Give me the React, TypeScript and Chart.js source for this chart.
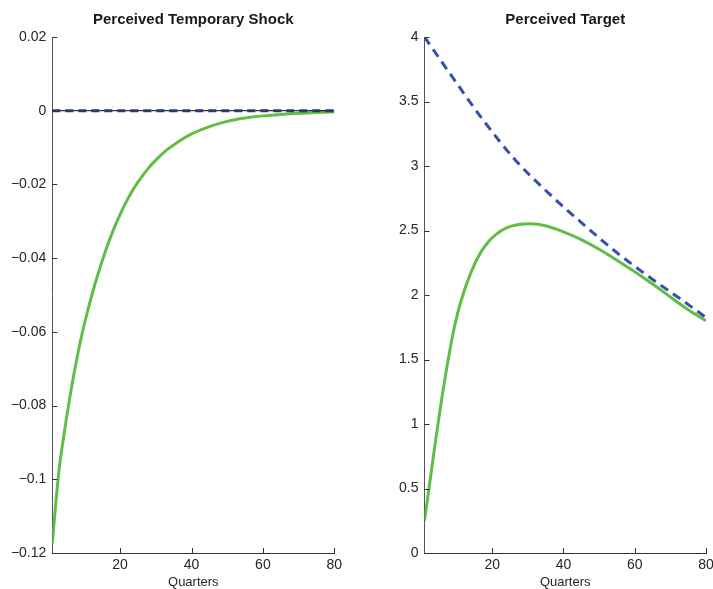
import React, { useEffect, useRef } from "react";
import { Chart, registerables } from "chart.js";

Chart.register(...registerables);

const FONT = '"Liberation Sans", Arial, Helvetica, sans-serif';

// Shared horizontal axis (quarters after the shock)
const quarterMin = 1;
const quarterMax = 80;
const quarterTicks = [20, 40, 60, 80];

// Left panel: perceived temporary shock
const shockTicks = [-0.12, -0.1, -0.08, -0.06, -0.04, -0.02, 0, 0.02];
const shockQuarters = [
  1, 2, 3, 4, 5, 6, 7, 8, 9, 10, 12, 14, 16, 18, 20, 22, 24, 26, 28, 30, 33, 36, 40, 45, 50, 55,
  60, 65, 70, 75, 80,
];
const shockLearning = [
  -0.1173, -0.1062, -0.0965, -0.0896, -0.0832, -0.0773, -0.0718, -0.0667, -0.062, -0.0578,
  -0.0503, -0.0437, -0.0378, -0.0326, -0.0281, -0.0242, -0.0208, -0.018, -0.0155, -0.0134,
  -0.0107, -0.0086, -0.0063, -0.0043, -0.0029, -0.002, -0.0014, -0.001, -0.0007, -0.0005,
  -0.0003,
];
const shockFlatQuarters = [1, 80];
const shockActual = [0, 0];
const shockFullInfo = [0, 0];

// Right panel: perceived inflation target
const targetTicks = [0, 0.5, 1, 1.5, 2, 2.5, 3, 3.5, 4];
const targetDashQuarters = [1, 7.6, 17, 26.4, 35.8, 45.2, 54.6, 63.9, 73.4, 80];
const targetFullInfo = [4.0, 3.738, 3.373, 3.049, 2.79, 2.557, 2.337, 2.143, 1.958, 1.825];
const targetLearnQuarters = [
  1, 2, 3, 4, 5, 6, 7, 8, 9, 10, 11, 12, 13, 15, 17, 19, 21, 24, 27, 31, 35, 40, 45, 50, 55, 60,
  65, 70, 75, 80,
];
const targetLearning = [
  0.25, 0.45, 0.65, 0.85, 1.04, 1.225, 1.395, 1.555, 1.7, 1.825, 1.93, 2.02, 2.1, 2.235, 2.34,
  2.415, 2.468, 2.52, 2.545, 2.553, 2.537, 2.49, 2.43, 2.355, 2.27, 2.18, 2.085, 1.985, 1.885,
  1.8,
];

const GREEN = "#60bd45";
const BLUE = "#3551a8";
const NAVY = "#2c3a6e";

const pts = (xs: number[], ys: number[]) => xs.map((x, i) => ({ x, y: ys[i] }));

function fmtTick(v: number): string {
  const r = Math.round(v * 1000) / 1000;
  if (r === 0) return "0";
  const s = String(parseFloat(Math.abs(r).toFixed(2)));
  return (r < 0 ? "\u2212" : "") + s;
}

// Inward tick marks and the panel heading, drawn over the plot
const axisDecor = {
  id: "axisDecor",
  afterDraw(chart: any, _args: any, opts: any) {
    const { ctx, chartArea } = chart;
    const xs = chart.scales.x;
    const ys = chart.scales.y;
    ctx.save();
    ctx.lineWidth = 1;
    ctx.strokeStyle = "#333333";
    ctx.beginPath();
    xs.ticks.forEach((t: any) => {
      const px = Math.round(xs.getPixelForValue(t.value)) + 0.5;
      ctx.moveTo(px, chartArea.bottom);
      ctx.lineTo(px, chartArea.bottom - 5);
    });
    ys.ticks.forEach((t: any) => {
      const py = Math.round(ys.getPixelForValue(t.value)) + 0.5;
      ctx.moveTo(chartArea.left, py);
      ctx.lineTo(chartArea.left + 5, py);
    });
    ctx.stroke();
    ctx.fillStyle = "#1a1a1a";
    ctx.font = `bold 15px ${FONT}`;
    ctx.textAlign = "center";
    ctx.textBaseline = "middle";
    ctx.fillText(opts.title, (chartArea.left + chartArea.right) / 2, 20);
    ctx.restore();
  },
};

type PanelProps = {
  left: number;
  width: number;
  yWidth: number;
  padRight: number;
  yMin: number;
  yMax: number;
  yTicks: number[];
  title: string;
  datasets: any[];
};

function Panel(p: PanelProps) {
  const ref = useRef<HTMLCanvasElement | null>(null);
  useEffect(() => {
    if (!ref.current) return;
    const chart = new Chart(ref.current, {
      type: "line",
      data: { datasets: p.datasets },
      plugins: [axisDecor],
      options: {
        animation: false,
        responsive: false,
        maintainAspectRatio: false,
        layout: { padding: { top: 37, right: p.padRight, bottom: 0, left: 0 } },
        elements: { point: { radius: 0 } },
        plugins: {
          legend: { display: false },
          tooltip: { enabled: false },
          axisDecor: { title: p.title },
        } as any,
        scales: {
          x: {
            type: "linear",
            min: quarterMin,
            max: quarterMax,
            afterBuildTicks: (s: any) => {
              s.ticks = quarterTicks.map((v) => ({ value: v }));
            },
            afterFit: (s: any) => {
              s.height = 36;
            },
            grid: { display: false, drawTicks: false },
            border: { display: true, color: "#333333", width: 1 },
            ticks: {
              padding: 4,
              color: "#262626",
              maxRotation: 0,
              autoSkip: false,
              font: { family: FONT, size: 14 },
              callback: (v: any) => String(v),
            },
            title: {
              display: true,
              text: "Quarters",
              color: "#262626",
              padding: 0,
              font: { family: FONT, size: 13, lineHeight: 1 },
            },
          },
          y: {
            type: "linear",
            min: p.yMin,
            max: p.yMax,
            afterBuildTicks: (s: any) => {
              s.ticks = p.yTicks.map((v) => ({ value: v }));
            },
            afterFit: (s: any) => {
              s.width = p.yWidth;
            },
            grid: { display: false, drawTicks: false },
            border: { display: true, color: "#555555", width: 1 },
            ticks: {
              padding: 6,
              color: "#262626",
              autoSkip: false,
              font: { family: FONT, size: 14 },
              callback: (v: any) => fmtTick(Number(v)),
            },
          },
        },
      } as any,
    });
    return () => chart.destroy();
  }, []);
  return (
    <canvas
      ref={ref}
      width={p.width}
      height={589}
      style={{ position: "absolute", left: p.left, top: 0, width: p.width, height: 589 }}
    />
  );
}

export default function App() {
  const shockSets = [
    {
      data: pts(shockFlatQuarters, shockFullInfo),
      borderColor: NAVY,
      borderWidth: 3,
      borderDash: [8, 5],
      order: 0,
    },
    {
      data: pts(shockFlatQuarters, shockActual),
      borderColor: "#000000",
      borderWidth: 1,
      order: 1,
    },
    {
      data: pts(shockQuarters, shockLearning),
      borderColor: GREEN,
      borderWidth: 3,
      cubicInterpolationMode: "monotone",
      order: 2,
    },
  ];
  const targetSets = [
    {
      data: pts(targetDashQuarters, targetFullInfo),
      borderColor: BLUE,
      borderWidth: 3,
      borderDash: [9, 6],
      cubicInterpolationMode: "monotone",
      order: 0,
    },
    {
      data: pts(targetLearnQuarters, targetLearning),
      borderColor: GREEN,
      borderWidth: 3,
      cubicInterpolationMode: "monotone",
      order: 1,
    },
  ];
  return (
    <div
      style={{
        position: "fixed",
        left: 0,
        top: 0,
        width: 713,
        height: 589,
        overflow: "hidden",
        background: "#ffffff",
      }}
    >
      <Panel
        left={0}
        width={360}
        yWidth={52.3}
        padRight={25.7}
        yMin={-0.12}
        yMax={0.02}
        yTicks={shockTicks}
        title="Perceived Temporary Shock"
        datasets={shockSets}
      />
      <Panel
        left={380}
        width={350}
        yWidth={44.5}
        padRight={24}
        yMin={0}
        yMax={4}
        yTicks={targetTicks}
        title="Perceived Target"
        datasets={targetSets}
      />
    </div>
  );
}
